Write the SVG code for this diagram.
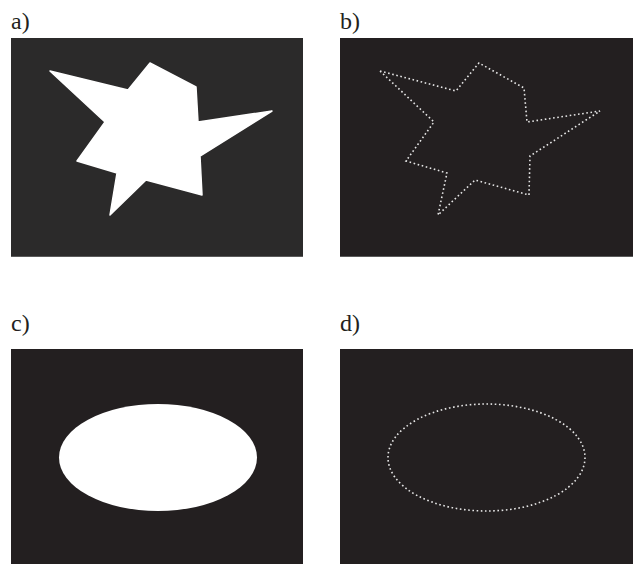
<svg xmlns="http://www.w3.org/2000/svg" width="634" height="564" viewBox="0 0 634 564">
<style>
.lbl{font-family:"Liberation Serif","Times New Roman",serif;font-size:24px;fill:#231f20}
.panel{fill:#231f20}
.edge{stroke:#5a5a5a;stroke-width:1}
.solid{fill:#ffffff;stroke:#ffffff;stroke-width:1.5;stroke-linejoin:round}
.dots{fill:none;stroke:#e6e6e6;stroke-width:1.6;stroke-dasharray:1.6 2.6}
</style>
<rect width="634" height="564" fill="#ffffff"/>
<g id="panel-a">
<text class="lbl" x="11" y="29">a)</text>
<rect x="11" y="38" width="292" height="219" fill="#2b2a2a"/>
<line class="edge" x1="11" y1="256.5" x2="303" y2="256.5"/>
<polygon class="solid" points="50,71 128,90 150,63 196,87 198,122 272,111 200,156 202,195 146,180 110,215 117,173 77,161 105,122"/>
</g>
<g id="panel-b">
<text class="lbl" x="340" y="29">b)</text>
<rect class="panel" x="340" y="38" width="293" height="219"/>
<line class="edge" x1="340" y1="256.5" x2="633" y2="256.5"/>
<polygon class="dots" points="380,71 456,91 479,63 524,88 527,122 600,111 530,156 529,195 475,180 438,215 447,173 406,161 434,122"/>
</g>
<g id="panel-c">
<text class="lbl" x="11" y="331">c)</text>
<rect class="panel" x="11" y="349" width="292" height="215"/>
<ellipse cx="158" cy="457.5" rx="99" ry="53.5" fill="#ffffff"/>
</g>
<g id="panel-d">
<text class="lbl" x="340" y="331">d)</text>
<rect class="panel" x="340" y="349" width="293" height="215"/>
<ellipse class="dots" cx="486.5" cy="457.5" rx="98.5" ry="53.5"/>
</g>
</svg>
